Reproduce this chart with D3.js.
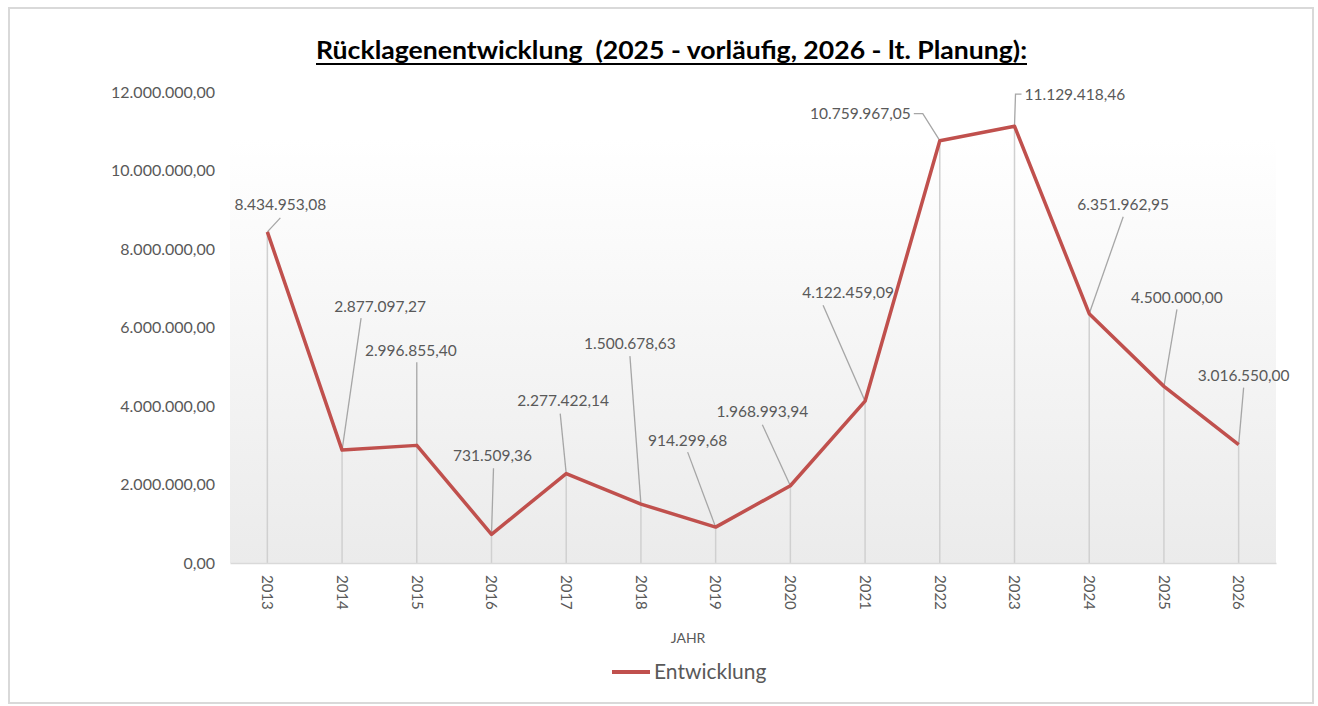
<!DOCTYPE html>
<html>
<head>
<meta charset="utf-8">
<script src="https://cdn.jsdelivr.net/npm/d3@7"></script>
<style>
  body { margin: 0; background: #fff; }
  svg { display: block; font-family: Lato, "Open Sans", sans-serif; }
</style>
</head>
<body>
<svg id="chart" width="1318" height="706"></svg>
<script>
// data
var years = ["2013","2014","2015","2016","2017","2018","2019","2020","2021","2022","2023","2024","2025","2026"];
var values = [8434953.08, 2877097.27, 2996855.40, 731509.36, 2277422.14, 1500678.63, 914299.68,
              1968993.94, 4122459.09, 10759967.05, 11129418.46, 6351962.95, 4500000.00, 3016550.00];
var yTicks = [0, 2000000, 4000000, 6000000, 8000000, 10000000, 12000000];

// label placement (offset of label centre from its point) and leader lines
var labelOffsets = [[13,-27],[38,-143],[-6,-95],[1,-79],[-3,-73],[-11,-161],[-28,-87],
                    [-28,-74],[-17,-109],[-81,-27],[57,-32],[34,-109],[13,-89],[5,-69]];
var leaderPts = [
  [[13,-14]], [[19,-132]], [[0,-83]], [[2,-66]], [[-6,-60]], [[-11,-148]], [[-28,-75]],
  [[-28,-61]], [[-42,-96]], [[-26,-27],[-17,-27]], [[7,-32],[1,-32]], [[34,-97]], [[13,-77]], [[5,-57]]
];

var red = "#c0504d", grey = "#595959";
var fmt = function(v){
  var s = d3.format(",.2f")(v);
  return s.replace(/,/g, "#").replace(".", ",").replace(/#/g, ".");
};

var svg = d3.select("#chart");

// outer frame
svg.append("rect").attr("x", 9).attr("y", 8).attr("width", 1304).attr("height", 695)
  .attr("fill", "none").attr("stroke", "#d9d9d9").attr("stroke-width", 2);

var plotLeft = 230, plotRight = 1276, plotTop = 92, plotBottom = 563;

var x = d3.scaleBand().domain(years).range([plotLeft, plotRight]);
var y = d3.scaleLinear().domain([0, 12000000]).range([plotBottom, plotTop]);

// plot area background
var grad = svg.append("defs").append("linearGradient").attr("id", "bg")
  .attr("x1", 0).attr("y1", 0).attr("x2", 0).attr("y2", 1);
grad.append("stop").attr("offset", "0%").attr("stop-color", "#ffffff");
grad.append("stop").attr("offset", "10%").attr("stop-color", "#ffffff");
grad.append("stop").attr("offset", "100%").attr("stop-color", "#ebebeb");
svg.append("rect").attr("x", plotLeft).attr("y", plotTop)
  .attr("width", plotRight - plotLeft).attr("height", plotBottom - plotTop)
  .attr("fill", "url(#bg)");

// title
svg.append("text").attr("x", 316).attr("y", 59)
  .attr("font-size", 25).attr("font-weight", "bold").attr("fill", "#000")
  .attr("textLength", 711).attr("lengthAdjust", "spacingAndGlyphs")
  .attr("xml:space", "preserve")
  .text("Rücklagenentwicklung  (2025 - vorläufig, 2026 - lt. Planung):");
svg.append("line").attr("x1", 316).attr("x2", 1027).attr("y1", 64).attr("y2", 64)
  .attr("stroke", "#000").attr("stroke-width", 2);

// y axis labels
svg.append("g").selectAll("text").data(yTicks).join("text")
  .attr("x", 215).attr("y", function(d){ return y(d); }).attr("dy", "0.35em")
  .attr("text-anchor", "end").attr("font-size", 16).attr("fill", grey)
  .text(fmt);

var cx = function(d, i){ return x(years[i]) + x.bandwidth() / 2; };

// drop lines
svg.append("g").selectAll("line").data(values).join("line")
  .attr("x1", cx).attr("x2", cx)
  .attr("y1", function(d){ return y(d); }).attr("y2", plotBottom)
  .attr("stroke", "#d0d0d0").attr("stroke-width", 1.5);

// x axis
var xAxis = svg.append("g").attr("transform", "translate(0," + plotBottom + ")")
  .call(d3.axisBottom(x).tickSize(0).tickPadding(0));
xAxis.select(".domain").attr("stroke", "#d9d9d9").attr("stroke-width", 1.5);
xAxis.selectAll(".tick text")
  .attr("transform", "translate(0,12) rotate(90)")
  .attr("x", 0).attr("y", 0).attr("dy", "0.35em")
  .attr("text-anchor", "start").attr("font-size", 15).attr("font-family", "Lato")
  .attr("fill", grey);

svg.append("text").attr("x", 688).attr("y", 643).attr("text-anchor", "middle")
  .attr("font-size", 14).attr("fill", grey).text("JAHR");

// leader lines
svg.append("g").selectAll("polyline").data(values).join("polyline")
  .attr("points", function(d, i){
    var px = cx(d, i), py = y(d);
    var pts = leaderPts[i].map(function(o){ return [px + o[0], py + o[1]]; });
    pts.push([px, py]);
    return pts.map(function(p){ return p.join(","); }).join(" ");
  })
  .attr("fill", "none").attr("stroke", "#a6a6a6").attr("stroke-width", 1.3);

// the line
var line = d3.line().x(cx).y(function(d){ return y(d); });
svg.append("path").datum(values).attr("d", line)
  .attr("fill", "none").attr("stroke", red).attr("stroke-width", 3.5)
  .attr("stroke-linejoin", "round");

// data labels
svg.append("g").selectAll("text").data(values).join("text")
  .attr("x", function(d, i){
    var px = cx(d, i) + labelOffsets[i][0];
    if (i === 9) return px + 52;
    if (i === 10) return px - 47;
    return px;
  })
  .attr("y", function(d, i){ return y(d) + labelOffsets[i][1]; })
  .attr("dy", "0.35em")
  .attr("text-anchor", function(d, i){ return i === 9 ? "end" : (i === 10 ? "start" : "middle"); })
  .attr("font-size", 15.5).attr("fill", grey)
  .text(fmt);

// legend
svg.append("line").attr("x1", 612).attr("x2", 650).attr("y1", 672).attr("y2", 672)
  .attr("stroke", red).attr("stroke-width", 4);
svg.append("text").attr("x", 654).attr("y", 679).attr("font-size", 21).attr("fill", grey)
  .text("Entwicklung");
</script>
</body>
</html>
